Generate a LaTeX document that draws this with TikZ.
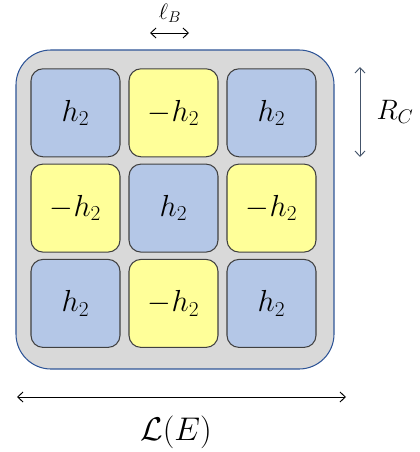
\documentclass[tikz,border=0pt]{standalone}
\usepackage{fix-cm}
\usepackage{amsmath,amssymb}
\usepackage{tikz}
\usetikzlibrary{arrows.meta,positioning,calc}
\definecolor{tileblue}{RGB}{180,199,231}
\definecolor{tileyellow}{RGB}{255,255,153}
\definecolor{boardgray}{RGB}{217,217,217}
\definecolor{boardedge}{RGB}{47,85,151}
\definecolor{slateedge}{RGB}{68,84,106}
\tikzset{
  tile/.style={draw=black!75, line width=0.9pt, rounded corners=0.36cm,
    minimum width=2.67cm, minimum height=2.64cm, inner sep=0pt,
    font=\fontsize{26}{30}\selectfont},
  dimarrow/.style={{Straight Barb[length=1.6mm,width=3mm]}-{Straight Barb[length=1.6mm,width=3mm]}, line width=0.8pt}
}

\begin{document}
\begin{tikzpicture}[x=0.03cm,y=-0.03cm]
  \useasboundingbox (0,0) rectangle (419,452);
  \node[draw=boardedge, fill=boardgray, line width=0.9pt, rounded corners=1.05cm,
    minimum width=9.54cm, minimum height=9.57cm] (board) at (175,209.5) {};
  \foreach \x/\y/\c/\t in {1/1/tileblue/h_2,2/1/tileyellow/-h_2,3/1/tileblue/h_2,
                           1/2/tileyellow/-h_2,2/2/tileblue/h_2,3/2/tileyellow/-h_2,
                           1/3/tileblue/h_2,2/3/tileyellow/-h_2,3/3/tileblue/h_2} {
    \node[tile, fill=\c] (t\x\y) at ({-22.5+98*\x},{17.5+95.3*\y}) {$\t$};
  }
  % dimensions
  \coordinate (lbl) at (150,33);
  \coordinate (lbr) at (189,33);
  \draw[dimarrow] (lbl) -- (lbr);
  \node[font=\fontsize{19}{22}\selectfont] (lb) at (170,13) {$\ell_B$};
  \coordinate (rct) at (360,67);
  \coordinate (rcb) at (360,157);
  \draw[dimarrow, draw=slateedge] (rct) -- (rcb);
  \node[font=\fontsize{24}{28}\selectfont] (rc) at (395,112) {$R_C$};
  \coordinate (lel) at (17,397);
  \coordinate (ler) at (346,397);
  \draw[dimarrow] (lel) -- (ler);
  \node[font=\fontsize{28}{32}\selectfont] (le) at (176,432) {$\mathcal{L}(E)$};
\end{tikzpicture}
\end{document}
